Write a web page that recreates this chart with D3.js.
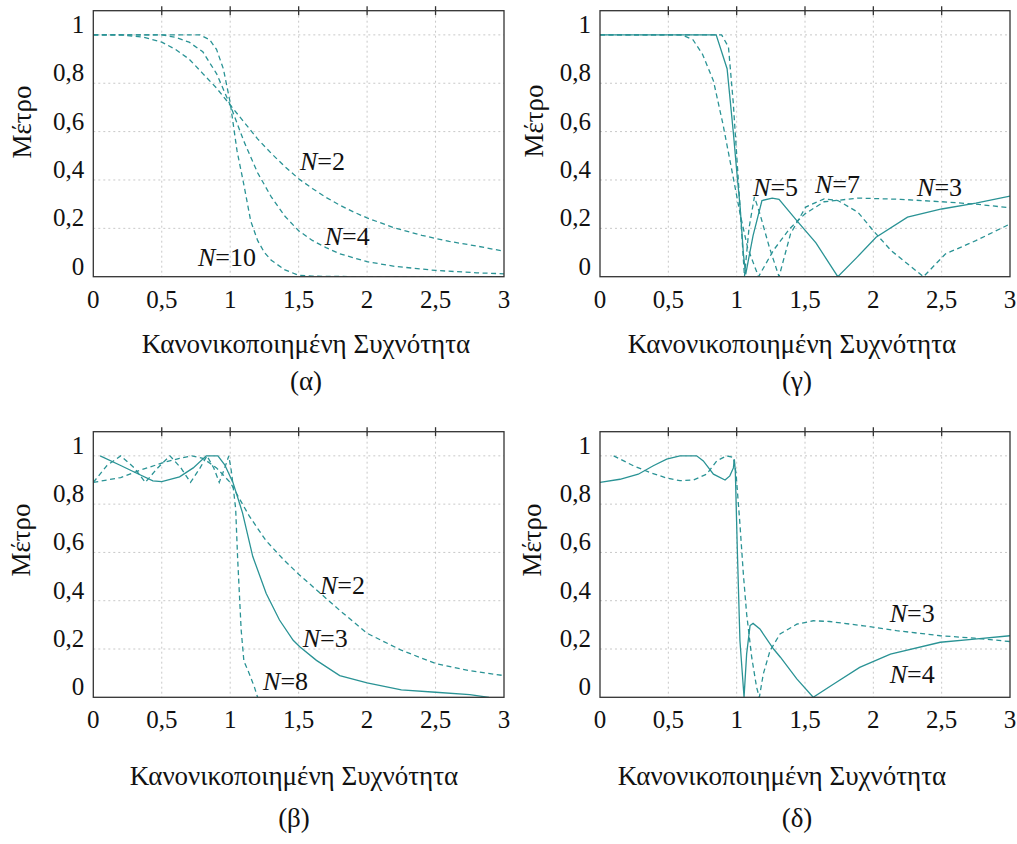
<!DOCTYPE html>
<html>
<head>
<meta charset="utf-8">
<script src="https://cdn.jsdelivr.net/npm/d3@7"></script>
<style>
  body { margin: 0; background: #fff; }
</style>
</head>
<body>
<div id="chart"></div>
<script>
// ---- data ----
const xTicks = [0, 0.5, 1, 1.5, 2, 2.5, 3];
const yTicks = [0, 0.2, 0.4, 0.6, 0.8, 1];

// (α) Butterworth
const butN2X = [0, 0.2, 0.37, 0.5, 0.6, 0.7, 0.8, 0.9, 1.0, 1.1, 1.2, 1.3, 1.4, 1.5, 1.6, 1.7, 1.8, 1.9, 2.0, 2.2, 2.4, 2.6, 2.8, 3.0];
const butN2Y = [1, 1, 0.99, 0.97, 0.94, 0.9, 0.84, 0.78, 0.71, 0.64, 0.57, 0.51, 0.455, 0.405, 0.365, 0.328, 0.296, 0.268, 0.243, 0.202, 0.171, 0.146, 0.127, 0.105];
const butN4X = [0, 0.5, 0.6, 0.7, 0.8, 0.9, 1.0, 1.1, 1.2, 1.3, 1.4, 1.5, 1.6, 1.7, 1.8, 2.0, 2.2, 2.5, 2.8, 3.0];
const butN4Y = [1, 1, 0.99, 0.97, 0.93, 0.84, 0.71, 0.56, 0.43, 0.33, 0.25, 0.19, 0.15, 0.12, 0.095, 0.062, 0.043, 0.026, 0.016, 0.012];
const butN10X = [0, 0.78, 0.85, 0.9, 0.95, 1.0, 1.05, 1.1, 1.15, 1.2, 1.25, 1.3, 1.4, 1.5, 1.6, 2.0, 3.0];
const butN10Y = [1, 1, 0.98, 0.94, 0.86, 0.72, 0.52, 0.38, 0.23, 0.15, 0.1, 0.068, 0.028, 0.006, 0.002, 0, 0];

// (γ) inverse Chebyshev
const icN3X = [0, 0.6, 0.68, 0.75, 0.83, 0.9, 0.975, 1.025, 1.08, 1.16, 1.27, 1.39, 1.5, 1.64, 1.89, 2.2, 2.5, 2.75, 3.0];
const icN3Y = [1, 1, 0.98, 0.92, 0.81, 0.63, 0.41, 0.26, 0.12, 0, 0.11, 0.2, 0.26, 0.31, 0.325, 0.32, 0.31, 0.3, 0.285];
const icN5X = [0, 0.85, 0.93, 0.975, 1.0, 1.025, 1.05, 1.066, 1.12, 1.185, 1.26, 1.31, 1.44, 1.58, 1.74, 1.88, 2.02, 2.25, 2.5, 2.75, 3.0];
const icN5Y = [1, 1, 0.86, 0.6, 0.44, 0.29, 0.09, 0.01, 0.17, 0.315, 0.325, 0.32, 0.232, 0.14, 0, 0.08, 0.163, 0.246, 0.28, 0.304, 0.333];
const icN7X = [0, 0.89, 0.94, 0.975, 1.012, 1.035, 1.057, 1.09, 1.13, 1.17, 1.24, 1.31, 1.394, 1.505, 1.64, 1.74, 1.887, 2.0, 2.13, 2.367, 2.527, 2.75, 3.0];
const icN7Y = [1, 1, 0.95, 0.72, 0.4, 0.2, 0, 0.2, 0.33, 0.26, 0.12, 0, 0.177, 0.288, 0.322, 0.315, 0.267, 0.19, 0.108, 0, 0.094, 0.149, 0.218];

// (β) Chebyshev
const chN2X = [0, 0.2, 0.34, 0.5, 0.63, 0.72, 0.8, 0.9, 1.0, 1.14, 1.26, 1.39, 1.5, 1.66, 1.8, 2.0, 2.25, 2.5, 2.75, 3.0];
const chN2Y = [0.89, 0.91, 0.94, 0.97, 0.99, 1.0, 0.99, 0.95, 0.89, 0.75, 0.65, 0.57, 0.51, 0.43, 0.36, 0.265, 0.195, 0.14, 0.11, 0.09];
const chN3X = [0.05, 0.2, 0.31, 0.435, 0.5, 0.63, 0.73, 0.825, 0.91, 0.96, 1.02, 1.09, 1.165, 1.263, 1.36, 1.46, 1.51, 1.63, 1.8, 2.0, 2.25, 2.5, 2.75, 2.89];
const chN3Y = [1.0, 0.96, 0.93, 0.896, 0.893, 0.913, 0.95, 1.0, 1.0, 0.963, 0.89, 0.764, 0.583, 0.43, 0.32, 0.236, 0.208, 0.153, 0.09, 0.06, 0.031, 0.021, 0.011, 0];
const chN8X = [0, 0.1, 0.2, 0.3, 0.38, 0.47, 0.56, 0.64, 0.71, 0.78, 0.83, 0.88, 0.92, 0.96, 0.99, 1.01, 1.04, 1.054, 1.08, 1.1, 1.14, 1.177, 1.2];
const chN8Y = [0.89, 0.96, 1.0, 0.95, 0.89, 0.95, 1.0, 0.95, 0.89, 0.95, 1.0, 0.95, 0.89, 0.95, 1.0, 0.93, 0.78, 0.58, 0.28, 0.15, 0.097, 0.042, 0];

// (δ) elliptic
const elN3X = [0.1, 0.244, 0.366, 0.488, 0.585, 0.683, 0.78, 0.854, 0.927, 0.976, 0.995, 1.024, 1.049, 1.073, 1.11, 1.146, 1.166, 1.195, 1.244, 1.317, 1.44, 1.56, 1.68, 1.93, 2.17, 2.49, 2.74, 3.0];
const elN3Y = [1.0, 0.959, 0.931, 0.908, 0.897, 0.9, 0.924, 0.979, 1.0, 0.993, 0.93, 0.717, 0.51, 0.345, 0.166, 0.041, 0, 0.097, 0.193, 0.262, 0.303, 0.317, 0.314, 0.296, 0.276, 0.255, 0.245, 0.231];
const elN4X = [0, 0.146, 0.28, 0.39, 0.488, 0.585, 0.707, 0.756, 0.83, 0.915, 0.95, 0.976, 0.983, 0.99, 1.005, 1.024, 1.054, 1.073, 1.098, 1.12, 1.17, 1.27, 1.32, 1.44, 1.56, 1.71, 1.9, 2.125, 2.49, 2.74, 3.0];
const elN4Y = [0.89, 0.903, 0.924, 0.959, 0.986, 1.0, 1.0, 0.979, 0.924, 0.9, 0.917, 0.95, 0.986, 0.938, 0.607, 0.234, 0, 0.18, 0.297, 0.306, 0.283, 0.2, 0.166, 0.076, 0, 0.055, 0.124, 0.179, 0.228, 0.241, 0.255];

// ---- layout ----
const width = 1017, height = 844;
const color = '#2a9395';
const serif = '"Liberation Serif", "Times New Roman", Times, serif';
const tickSize = 25;
const titleSize = 27;
const noteSize = 26;

const panels = [
  {
    id: 'a', box: { left: 93.3, top: 10.7, right: 504, bottom: 276.7 },
    yLabel: { x: 31, y: 122 }, title: { x: 306, y: 353 }, caption: { x: 306, y: 390, text: '(α)' },
    series: [[butN2X, butN2Y, true], [butN4X, butN4Y, true], [butN10X, butN10Y, true]],
    notes: [['2', 1.51, 0.44], ['4', 1.69, 0.13], ['10', 0.764, 0.044]]
  },
  {
    id: 'g', box: { left: 600, top: 10.7, right: 1010, bottom: 276.7 },
    yLabel: { x: 543, y: 121 }, title: { x: 792, y: 353 }, caption: { x: 797, y: 390, text: '(γ)' },
    series: [[icN3X, icN3Y, true], [icN7X, icN7Y, true], [icN5X, icN5Y, false]],
    notes: [['5', 1.12, 0.334], ['7', 1.573, 0.345], ['3', 2.32, 0.333]]
  },
  {
    id: 'b', box: { left: 93.3, top: 431.7, right: 504, bottom: 697.3 },
    yLabel: { x: 30, y: 540 }, title: { x: 294, y: 785 }, caption: { x: 294, y: 827, text: '(β)' },
    series: [[chN2X, chN2Y, true], [chN8X, chN8Y, true], [chN3X, chN3Y, false]],
    notes: [['2', 1.656, 0.428], ['3', 1.53, 0.21], ['8', 1.24, 0.03]]
  },
  {
    id: 'd', box: { left: 600, top: 431.7, right: 1010, bottom: 697.3 },
    yLabel: { x: 541, y: 540 }, title: { x: 782, y: 785 }, caption: { x: 797, y: 827, text: '(δ)' },
    series: [[elN3X, elN3Y, true], [elN4X, elN4Y, false]],
    notes: [['3', 2.12, 0.312], ['4', 2.12, 0.059]]
  }
];

const svg = d3.select('#chart').append('svg')
  .attr('width', width)
  .attr('height', height)
  .attr('font-family', serif);

panels.forEach(p => drawPanel(svg, p));

function drawPanel(svg, p) {
  const b = p.box;
  const x = d3.scaleLinear().domain([0, 3]).range([b.left, b.right]);
  const y = d3.scaleLinear().domain([0, 1.1]).range([b.bottom, b.top]);
  const g = svg.append('g');

  // grid
  g.selectAll('line.vgrid').data(xTicks.slice(1, -1)).enter().append('line')
    .attr('x1', d => x(d)).attr('x2', d => x(d))
    .attr('y1', b.top).attr('y2', b.bottom)
    .attr('stroke', '#c8c8c8').attr('stroke-width', 1).attr('stroke-dasharray', '2,3');
  g.selectAll('line.hgrid').data(yTicks.slice(1)).enter().append('line')
    .attr('x1', b.left).attr('x2', b.right)
    .attr('y1', d => y(d)).attr('y2', d => y(d))
    .attr('stroke', '#c8c8c8').attr('stroke-width', 1).attr('stroke-dasharray', '2,3');

  // curves
  const clipId = 'clip-' + p.id;
  svg.append('clipPath').attr('id', clipId).append('rect')
    .attr('x', b.left).attr('y', b.top)
    .attr('width', b.right - b.left).attr('height', b.bottom - b.top);

  const line = d3.line().x(d => x(d[0])).y(d => y(d[1]));
  p.series.forEach(([xs, ys, dashed]) => {
    g.append('path')
      .datum(xs.map((v, i) => [v, ys[i]]))
      .attr('clip-path', `url(#${clipId})`)
      .attr('fill', 'none')
      .attr('stroke', color)
      .attr('stroke-width', 1.3)
      .attr('stroke-dasharray', dashed ? '5,3.5' : null)
      .attr('d', line);
  });

  // frame + top ticks
  g.append('rect')
    .attr('x', b.left).attr('y', b.top)
    .attr('width', b.right - b.left).attr('height', b.bottom - b.top)
    .attr('fill', 'none').attr('stroke', '#333').attr('stroke-width', 1.3);
  g.selectAll('line.top-tick').data(xTicks.slice(1, -1)).enter().append('line')
    .attr('x1', d => x(d)).attr('x2', d => x(d))
    .attr('y1', b.top - 4.5).attr('y2', b.top + 4.5)
    .attr('stroke', '#333').attr('stroke-width', 1.3);

  // tick labels
  const fmt = d => String(d).replace('.', ',');
  g.selectAll('text.xt').data(xTicks).enter().append('text')
    .attr('x', d => x(d)).attr('y', b.bottom + 31)
    .attr('text-anchor', 'middle').attr('font-size', tickSize).attr('fill', '#111')
    .text(fmt);
  g.selectAll('text.yt').data(yTicks).enter().append('text')
    .attr('x', b.left - 9).attr('y', d => y(d) - 2)
    .attr('text-anchor', 'end').attr('font-size', tickSize).attr('fill', '#111')
    .text(fmt);

  // axis titles
  g.append('text')
    .attr('transform', `translate(${p.yLabel.x},${p.yLabel.y}) rotate(-90)`)
    .attr('text-anchor', 'middle').attr('font-size', titleSize).attr('fill', '#111')
    .text('Μέτρο');
  g.append('text')
    .attr('x', p.title.x).attr('y', p.title.y)
    .attr('text-anchor', 'middle').attr('font-size', titleSize).attr('fill', '#111')
    .text('Κανονικοποιημένη Συχνότητα');
  g.append('text')
    .attr('x', p.caption.x).attr('y', p.caption.y)
    .attr('text-anchor', 'middle').attr('font-size', titleSize).attr('fill', '#111')
    .text(p.caption.text);

  // curve labels
  p.notes.forEach(([n, nx, ny]) => {
    const t = g.append('text')
      .attr('x', x(nx)).attr('y', y(ny))
      .attr('font-size', noteSize).attr('fill', '#111');
    t.append('tspan').attr('font-style', 'italic').text('N');
    t.append('tspan').text('=' + n);
  });
}
</script>
</body>
</html>
